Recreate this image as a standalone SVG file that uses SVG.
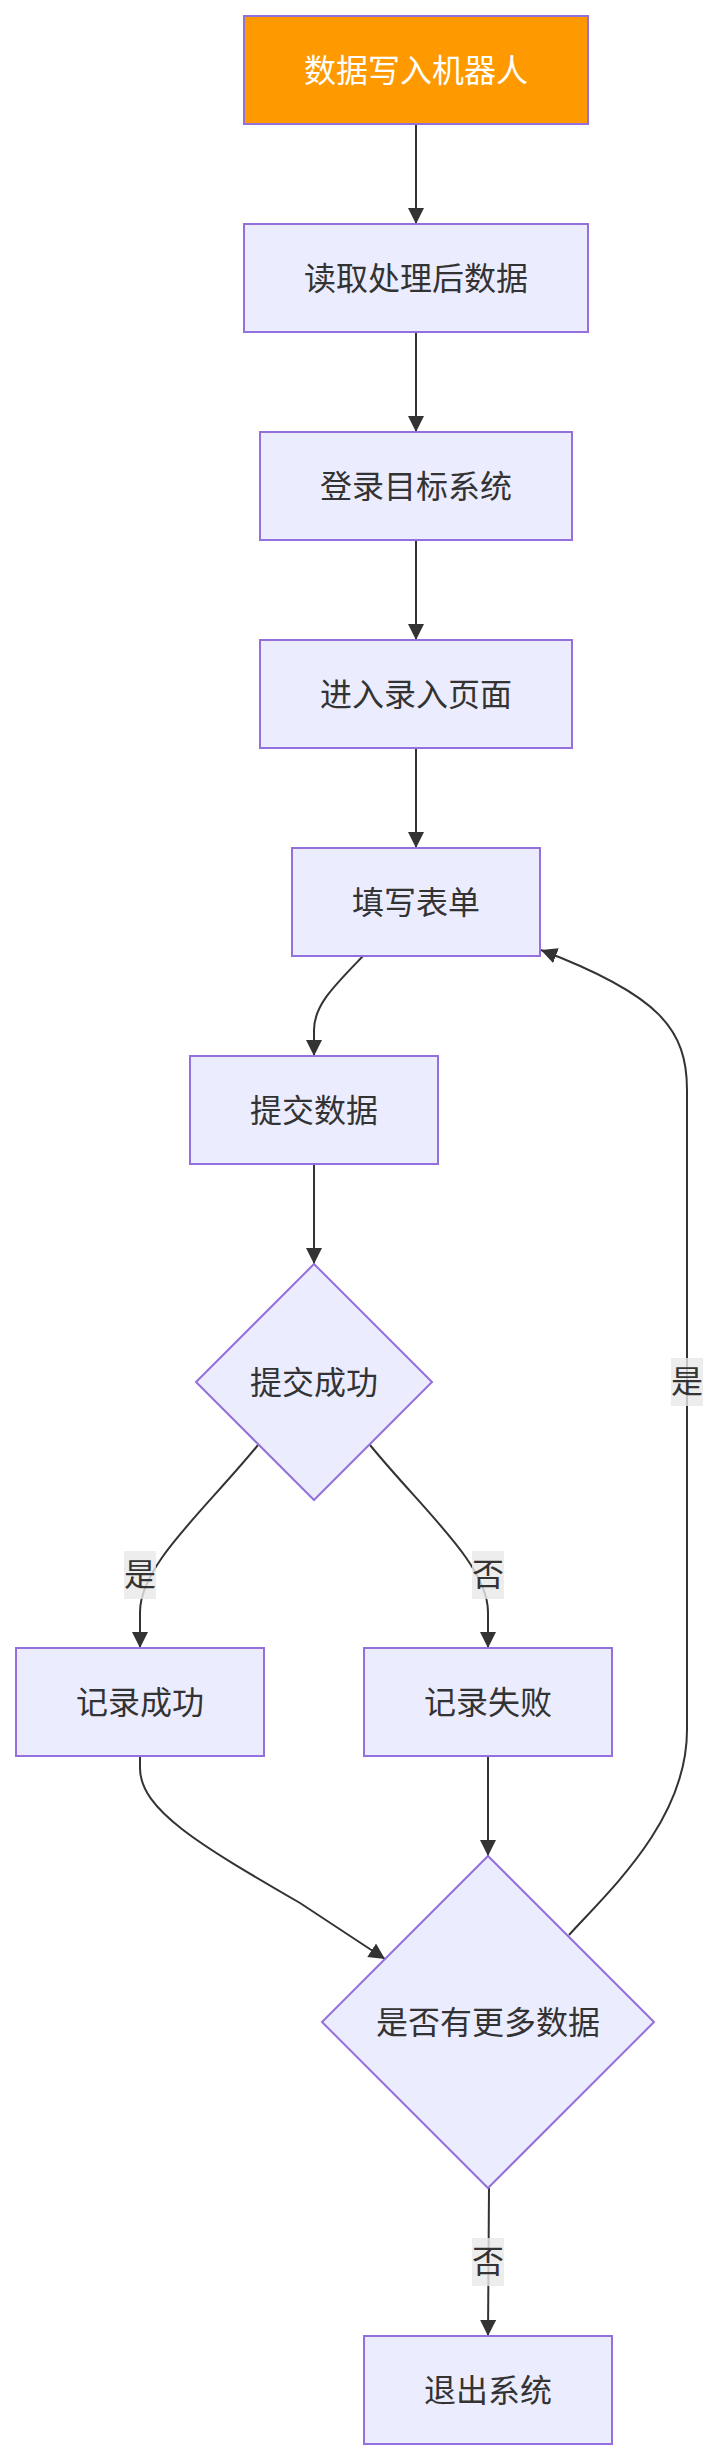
<svg xmlns="http://www.w3.org/2000/svg" width="719" height="2460" viewBox="0 0 719 2460">
<style>
.node rect,.node polygon{fill:#ECECFF;stroke:#9370DB;stroke-width:2}
.node text{font-family:"Liberation Sans","Noto Sans CJK SC",sans-serif;font-size:32px;fill:#333;text-anchor:middle;dominant-baseline:central}
#start rect{fill:#ff9900}
#start text{fill:#ffffff}
.edge{fill:none;stroke:#333;stroke-width:2}
.lbl rect{fill:#e8e8e8;fill-opacity:0.8}
.lbl text{font-family:"Liberation Sans","Noto Sans CJK SC",sans-serif;font-size:32px;fill:#333;text-anchor:middle;dominant-baseline:central}
</style>
<defs>
<marker id="arr" viewBox="0 0 10 10" refX="10" refY="5" markerUnits="userSpaceOnUse" markerWidth="16" markerHeight="16" orient="auto">
<path d="M0,0 L10,5 L0,10 z" fill="#333"/>
</marker>
</defs>
<rect width="719" height="2460" fill="#ffffff"/>
<g id="edges">
<path class="edge" d="M416,124 L416,224" marker-end="url(#arr)"/>
<path class="edge" d="M416,332 L416,432" marker-end="url(#arr)"/>
<path class="edge" d="M416,540 L416,640" marker-end="url(#arr)"/>
<path class="edge" d="M416,748 L416,848" marker-end="url(#arr)"/>
<path class="edge" d="M363,956 C335,985 314,1005 314,1030 L314,1056" marker-end="url(#arr)"/>
<path class="edge" d="M314,1164 L314,1264" marker-end="url(#arr)"/>
<path class="edge" d="M258,1445 C205,1510 140,1565 140,1612 L140,1648" marker-end="url(#arr)"/>
<path class="edge" d="M370,1445 C423,1510 488,1565 488,1612 L488,1648" marker-end="url(#arr)"/>
<path class="edge" d="M140,1756 L140,1768 C140,1810 200,1845 300,1903 L385,1959" marker-end="url(#arr)"/>
<path class="edge" d="M488,1756 L488,1856" marker-end="url(#arr)"/>
<path class="edge" d="M569,1935 C610,1890 687,1820 687,1730 L687,1090 C687,1030 660,995 541,950" marker-end="url(#arr)"/>
<path class="edge" d="M489,2188 L488,2336" marker-end="url(#arr)"/>
<g class="lbl"><rect x="124" y="1551" width="32" height="48"/><text x="140" y="1575">是</text></g>
<g class="lbl"><rect x="472" y="1551" width="32" height="48"/><text x="488" y="1575">否</text></g>
<g class="lbl"><rect x="671" y="1358" width="32" height="48"/><text x="687" y="1382">是</text></g>
<g class="lbl"><rect x="472" y="2238" width="32" height="48"/><text x="488" y="2262">否</text></g>
</g>
<g id="start" class="node"><rect x="244" y="16" width="344" height="108"/><text x="416" y="71">数据写入机器人</text></g>
<g id="read" class="node"><rect x="244" y="224" width="344" height="108"/><text x="416" y="279">读取处理后数据</text></g>
<g id="login" class="node"><rect x="260" y="432" width="312" height="108"/><text x="416" y="487">登录目标系统</text></g>
<g id="enter" class="node"><rect x="260" y="640" width="312" height="108"/><text x="416" y="695">进入录入页面</text></g>
<g id="fill" class="node"><rect x="292" y="848" width="248" height="108"/><text x="416" y="903">填写表单</text></g>
<g id="submit" class="node"><rect x="190" y="1056" width="248" height="108"/><text x="314" y="1111">提交数据</text></g>
<g id="ok" class="node"><polygon points="314,1264 432,1382 314,1500 196,1382"/><text x="314" y="1383">提交成功</text></g>
<g id="logok" class="node"><rect x="16" y="1648" width="248" height="108"/><text x="140" y="1703">记录成功</text></g>
<g id="logfail" class="node"><rect x="364" y="1648" width="248" height="108"/><text x="488" y="1703">记录失败</text></g>
<g id="more" class="node"><polygon points="488,1856 654,2022 488,2188 322,2022"/><text x="488" y="2023">是否有更多数据</text></g>
<g id="exit" class="node"><rect x="364" y="2336" width="248" height="108"/><text x="488" y="2391">退出系统</text></g>
</svg>
